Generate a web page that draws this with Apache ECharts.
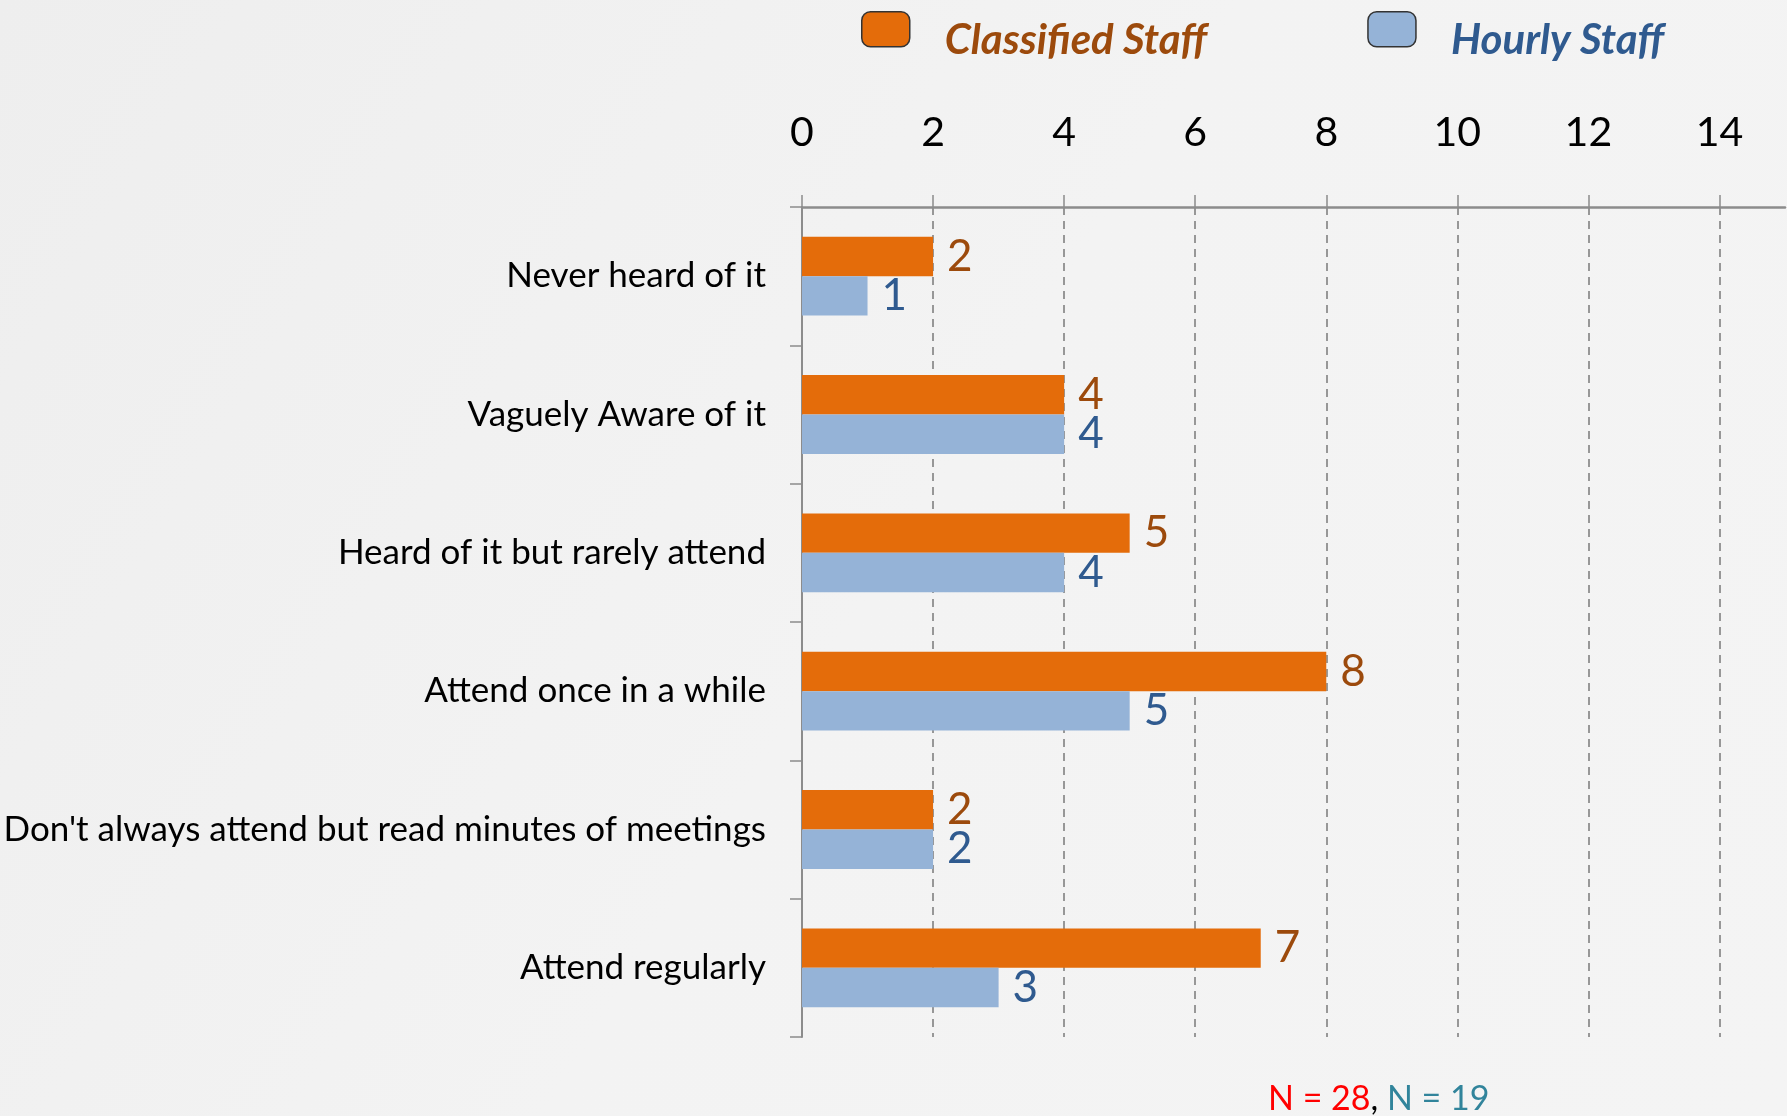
<!DOCTYPE html>
<html>
<head>
<meta charset="utf-8">
<script src="https://cdn.jsdelivr.net/npm/echarts@6/dist/echarts.min.js"></script>
<style>
  html, body { margin: 0; padding: 0; background: #f3f3f3; }
  #chart { width: 1787px; height: 1116px; }
</style>
</head>
<body>
<div id="chart"></div>
<script>
// categories top to bottom
var categories = [
  'Never heard of it',
  'Vaguely Aware of it',
  'Heard of it but rarely attend',
  'Attend once in a while',
  "Don't always attend but read minutes of meetings",
  'Attend regularly'
];
var classifiedStaff = [2, 4, 5, 8, 2, 7];
var hourlyStaff = [1, 4, 4, 5, 2, 3];
var tickValues = [0, 2, 4, 6, 8, 10, 12, 14];

var fontMain = 'Lato, "Open Sans", sans-serif';
var chart = echarts.init(document.getElementById('chart'));

function legendText(color) {
  return {
    rich: {
      a: {
        color: color,
        fontFamily: fontMain,
        fontStyle: 'italic',
        fontWeight: 'bold',
        fontSize: 42,
        padding: [22, 0, 0, 30]
      }
    }
  };
}

chart.setOption({
  backgroundColor: new echarts.graphic.LinearGradient(0, 0, 1, 1, [
    { offset: 0, color: '#eeeeee' },
    { offset: 0.5, color: '#f3f3f3' },
    { offset: 1, color: '#f4f4f4' }
  ]),
  animation: false,
  legend: {
    top: 6,
    left: 856,
    itemWidth: 48,
    itemHeight: 35,
    itemGap: 160,
    icon: 'roundRect',
    formatter: '{a|{name}}',
    data: [
      { name: 'Classified Staff', textStyle: legendText('#9C4A0C'), itemStyle: { borderColor: '#333', borderWidth: 1.5 } },
      { name: 'Hourly Staff', textStyle: legendText('#2F5A8F'), itemStyle: { borderColor: '#333', borderWidth: 1.5 } }
    ],
    textStyle: {
      fontFamily: fontMain,
      fontStyle: 'italic',
      fontWeight: 'bold',
      fontSize: 42
    }
  },
  grid: {
    left: 802,
    right: 2,
    top: 207,
    bottom: 79
  },
  xAxis: {
    type: 'value',
    position: 'top',
    min: 0,
    max: 15,
    interval: 2,
    axisLine: { show: true, lineStyle: { color: '#8c8c8c', width: 2.5 } },
    axisTick: { show: true, length: 12, customValues: tickValues, lineStyle: { color: '#8c8c8c', width: 1.5 } },
    axisLabel: {
      customValues: tickValues,
      margin: 54,
      color: '#000',
      fontSize: 41,
      fontFamily: fontMain
    },
    splitLine: {
      show: true,
      showMinLine: false,
      showMaxLine: true,
      lineStyle: { color: '#7a7a7a', type: [8, 6], width: 1.5 }
    }
  },
  yAxis: {
    type: 'category',
    inverse: true,
    data: categories,
    axisLine: { show: true, lineStyle: { color: '#8c8c8c', width: 2 } },
    axisTick: { show: true, length: 12, lineStyle: { color: '#8c8c8c', width: 1.5 } },
    axisLabel: {
      margin: 36,
      color: '#000',
      fontSize: 35,
      fontFamily: fontMain
    }
  },
  series: [
    {
      name: 'Classified Staff',
      type: 'bar',
      data: classifiedStaff,
      barGap: '0%',
      barCategoryGap: '43%',
      itemStyle: { color: '#E46C0A' },
      label: {
        show: true,
        position: 'right',
        distance: 14,
        color: '#9C4A0C',
        fontSize: 44,
        fontFamily: fontMain
      }
    },
    {
      name: 'Hourly Staff',
      type: 'bar',
      data: hourlyStaff,
      itemStyle: { color: '#95B3D7' },
      label: {
        show: true,
        position: 'right',
        distance: 14,
        color: '#2F5A8F',
        fontSize: 44,
        fontFamily: fontMain
      }
    }
  ],
  graphic: [
    {
      type: 'text',
      left: 1268,
      top: 1082,
      style: {
        text: '{r|N = 28}{k|, }{t|N = 19}',
        rich: {
          r: { fill: '#FF0000', fontSize: 34, fontFamily: fontMain },
          k: { fill: '#000000', fontSize: 34, fontFamily: fontMain },
          t: { fill: '#31849B', fontSize: 34, fontFamily: fontMain }
        }
      }
    }
  ]
});
</script>
</body>
</html>
